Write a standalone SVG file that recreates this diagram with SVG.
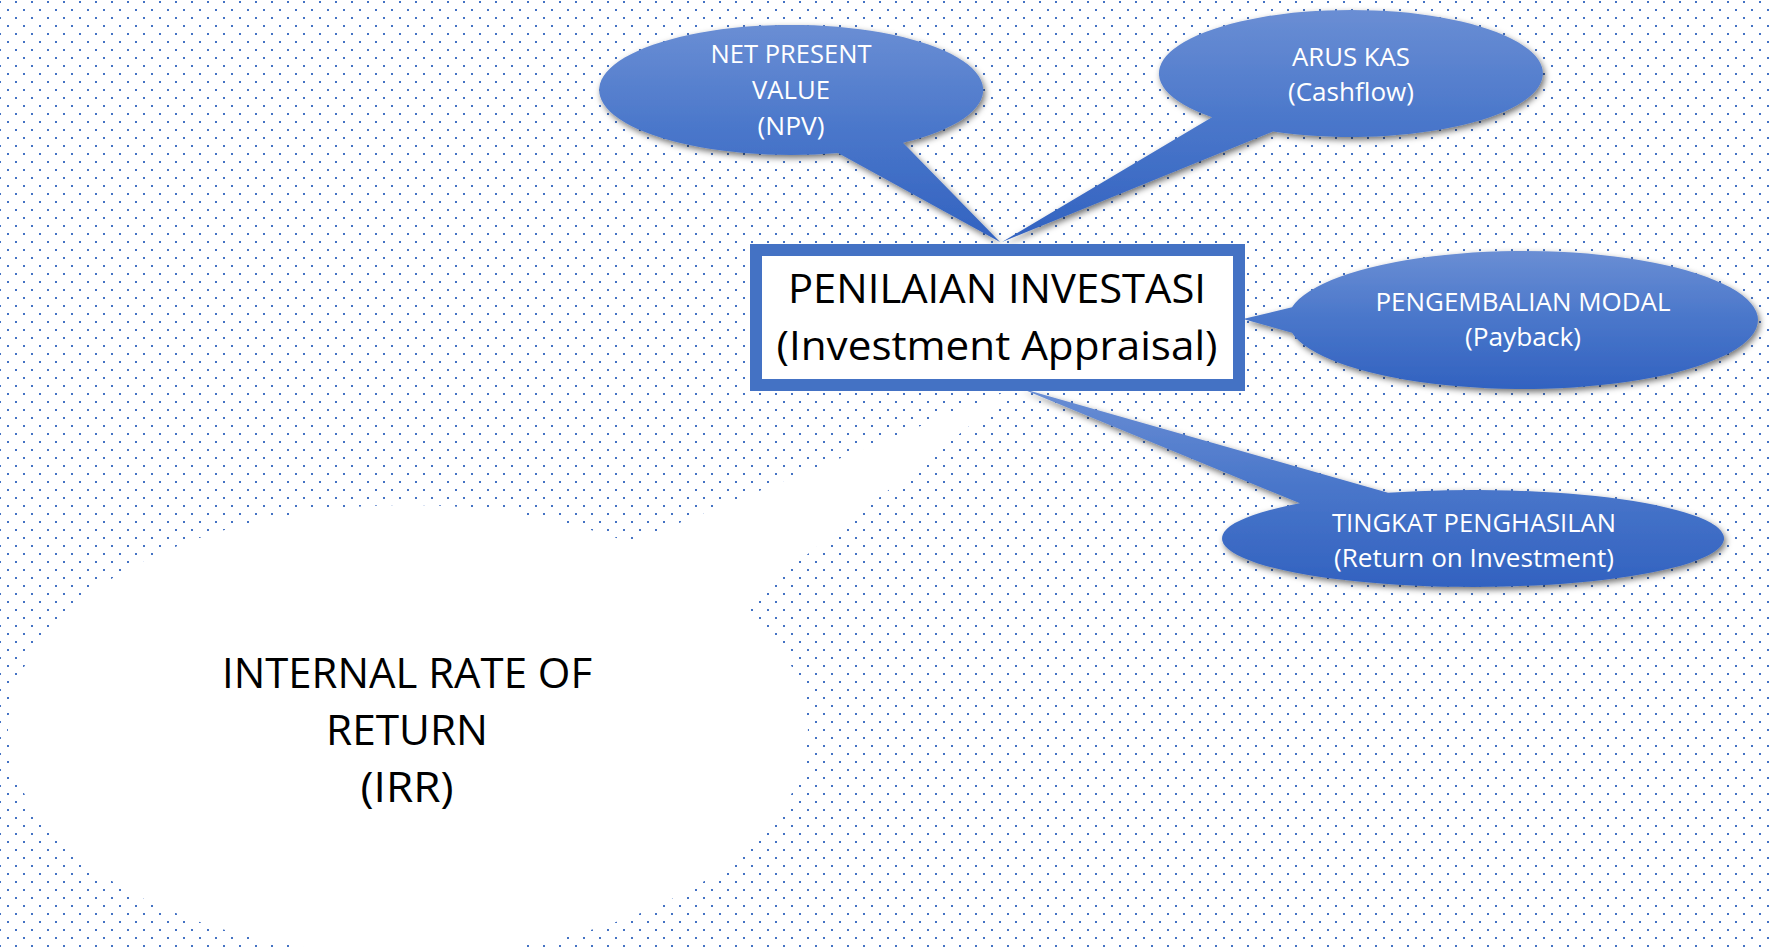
<svg xmlns="http://www.w3.org/2000/svg" width="1771" height="952" viewBox="0 0 1771 952">
  <style>
    .bubble { fill: url(#bubbleFill); filter: url(#softShadow); }
    .irr { fill: #ffffff; }
    .frame { fill: #ffffff; stroke: #4472C4; stroke-width: 12; }
    .lbl { font-family: "Open Sans", "Liberation Sans", sans-serif; text-anchor: middle; }
    .w { fill: #ffffff; font-size: 25px; }
    .k { fill: #000000; }
    .big { font-size: 41px; }
    .irrtxt { font-size: 42px; }
  </style>
  <defs>
    <!-- dotted paper: 2px dots on a staggered 16px grid -->
    <pattern id="dots" patternUnits="userSpaceOnUse" x="-1" y="0" width="16" height="16">
      <rect x="0" y="1" width="2" height="2" fill="#4472C4" shape-rendering="crispEdges"/>
      <rect x="8" y="9" width="2" height="2" fill="#4472C4" shape-rendering="crispEdges"/>
    </pattern>
    <linearGradient id="bubbleFill" x1="0" y1="0" x2="0" y2="1">
      <stop offset="0" stop-color="#6A8ED4"/>
      <stop offset="0.5" stop-color="#4976CA"/>
      <stop offset="1" stop-color="#3262C0"/>
    </linearGradient>
    <filter id="softShadow" x="-10%" y="-10%" width="125%" height="130%">
      <feGaussianBlur in="SourceAlpha" stdDeviation="3"/>
      <feOffset dx="2" dy="3" result="off"/>
      <feFlood flood-color="#000000" flood-opacity="0.55"/>
      <feComposite in2="off" operator="in"/>
      <feMerge>
        <feMergeNode/>
        <feMergeNode in="SourceGraphic"/>
      </feMerge>
    </filter>
  </defs>

  <rect x="0" y="0" width="1771" height="952" fill="#ffffff"/>
  <rect x="0" y="0" width="1771" height="952" fill="url(#dots)"/>

  <!-- callout tails act as the connectors; each tail is part of its node shape -->
  <g id="connectors"></g>

  <g id="node-irr">
    <path class="irr" d="M 630,542.8 L 1020,386 L 742,606.2 A 400 225 0 1 1 630,542.8 Z"/>
    <text class="lbl k irrtxt" x="407" y="688" textLength="370" lengthAdjust="spacingAndGlyphs">INTERNAL RATE OF</text>
    <text class="lbl k irrtxt" x="407" y="745" textLength="162" lengthAdjust="spacingAndGlyphs">RETURN</text>
    <text class="lbl k irrtxt" x="407" y="802" textLength="93" lengthAdjust="spacingAndGlyphs">(IRR)</text>
  </g>

  <g id="node-npv">
    <path class="bubble" d="M 838,153 L 1000,242 L 903,142.8 A 192 65 0 1 0 838,153 Z"/>
    <text class="lbl w" x="791" y="63.3" textLength="161" lengthAdjust="spacingAndGlyphs">NET PRESENT</text>
    <text class="lbl w" x="791" y="99" textLength="78" lengthAdjust="spacingAndGlyphs">VALUE</text>
    <text class="lbl w" x="791" y="134.5" textLength="67" lengthAdjust="spacingAndGlyphs">(NPV)</text>
  </g>

  <g id="node-cashflow">
    <path class="bubble" d="M 1212,117.3 L 1002,242 L 1273,131.5 A 192 63.5 0 1 0 1212,117.3 Z"/>
    <text class="lbl w" x="1351" y="65.7" textLength="118" lengthAdjust="spacingAndGlyphs">ARUS KAS</text>
    <text class="lbl w" x="1351" y="100.7" textLength="126" lengthAdjust="spacingAndGlyphs">(Cashflow)</text>
  </g>

  <g id="node-payback">
    <path class="bubble" d="M 1292,307.3 L 1243,319 L 1292,332.7 A 235 69 0 1 0 1292,307.3 Z"/>
    <text class="lbl w" x="1523" y="310.7" textLength="295" lengthAdjust="spacingAndGlyphs">PENGEMBALIAN MODAL</text>
    <text class="lbl w" x="1523" y="346" textLength="116" lengthAdjust="spacingAndGlyphs">(Payback)</text>
  </g>

  <g id="node-roi">
    <path class="bubble" d="M 1300,503.3 L 1020,388 L 1388,492.8 A 251 48.5 0 1 1 1300,503.3 Z"/>
    <text class="lbl w" x="1474" y="532.3" textLength="284" lengthAdjust="spacingAndGlyphs">TINGKAT PENGHASILAN</text>
    <text class="lbl w" x="1474" y="566.7" textLength="280" lengthAdjust="spacingAndGlyphs">(Return on Investment)</text>
  </g>

  <g id="node-appraisal">
    <rect class="frame" x="756" y="250" width="483" height="135"/>
    <text class="lbl k big" x="997" y="303" textLength="418" lengthAdjust="spacingAndGlyphs">PENILAIAN INVESTASI</text>
    <text class="lbl k big" x="997" y="360" textLength="441" lengthAdjust="spacingAndGlyphs">(Investment Appraisal)</text>
  </g>
</svg>
